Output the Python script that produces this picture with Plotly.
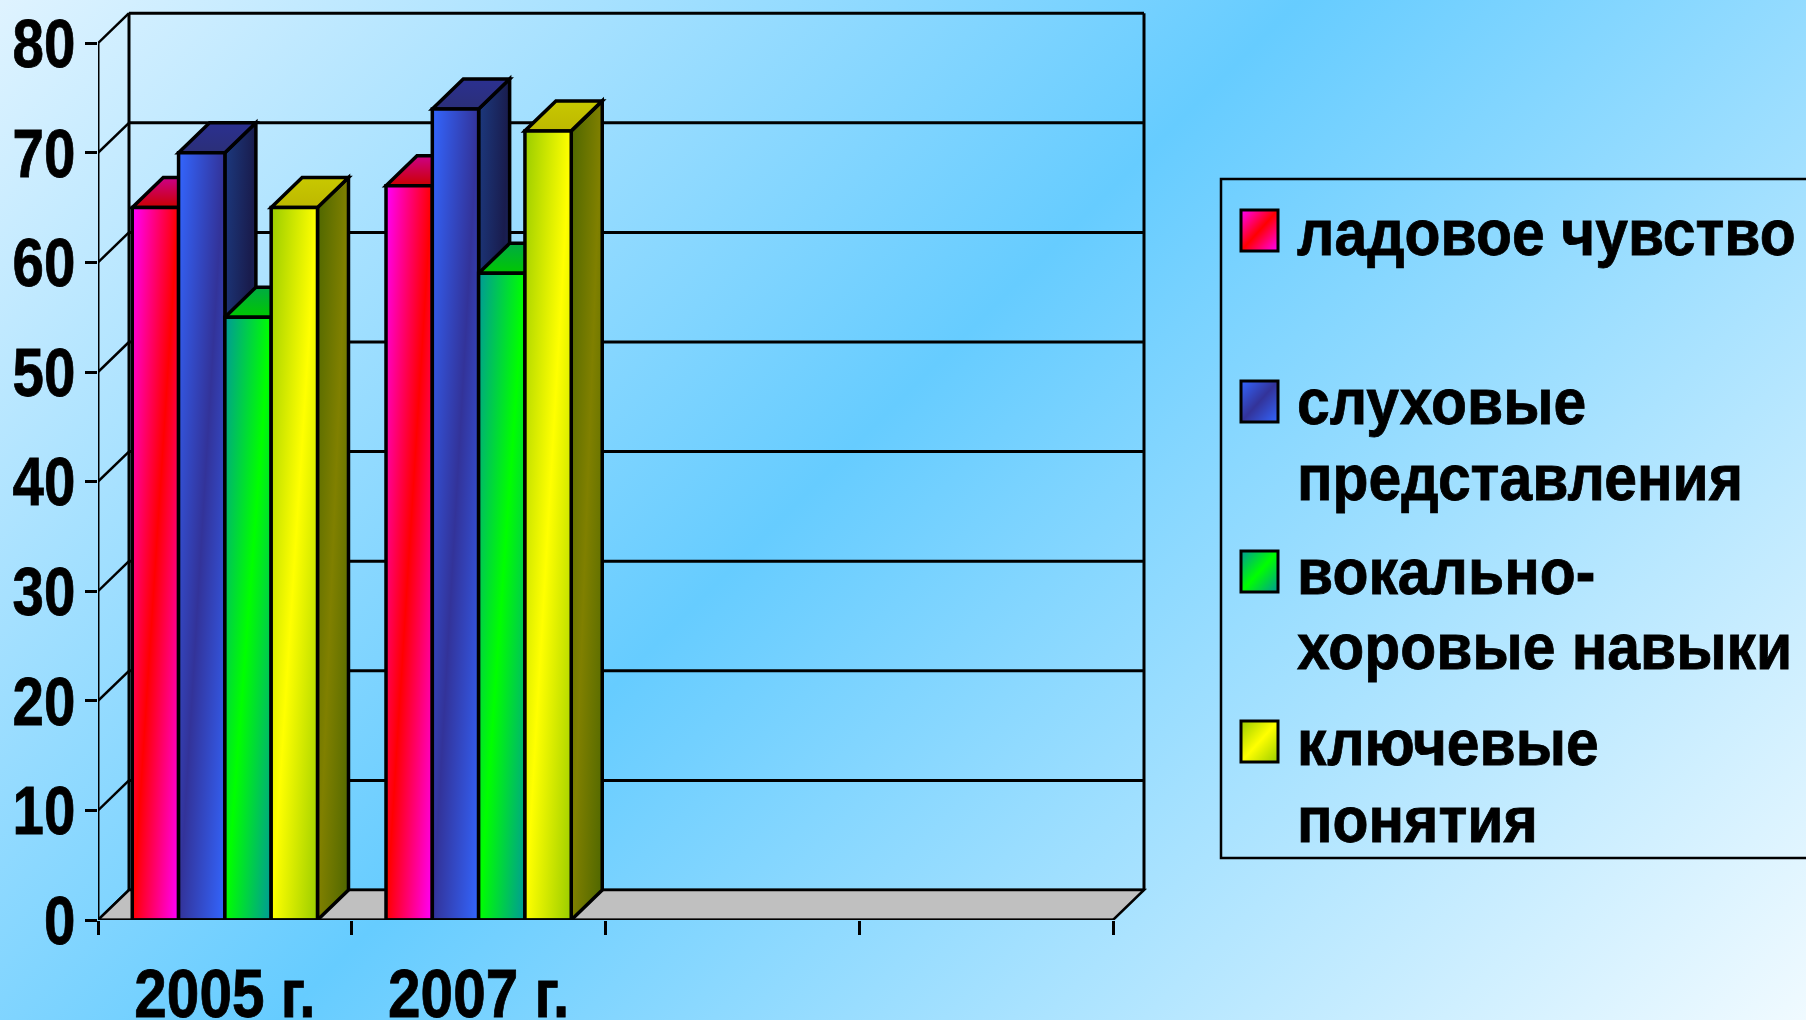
import base64, json
import plotly.graph_objects as go

# ---------- data ----------
categories = ["2005 г.", "2007 г."]
series_names = ["ладовое чувство", "слуховые представления", "вокально-хоровые навыки", "ключевые понятия"]
ladovoe = [65, 67]
sluhovye = [70, 74]
vokalno = [55, 59]
klyuchevye = [65, 72]
y_ticks = [0, 10, 20, 30, 40, 50, 60, 70, 80]

legend_lines = [["ладовое чувство"], ["слуховые", "представления"], ["вокально-", "хоровые навыки"], ["ключевые", "понятия"]]

# ---------- styling ----------
FONT = "Liberation Sans, Arial, sans-serif"
W, H = 1806, 1020
X0, Y0 = 98, 920          # front origin in px
CAT_PX, UNIT_PX = 253.75, 10.96
DX, DY = 31 / CAT_PX, 30 / UNIT_PX   # depth in axis units
X_END = -0.5 + (1150 - X0) / CAT_PX
Y_END = (Y0 - 6) / UNIT_PX
BARGAP = 0.27
LW = 3.5

front = [("#ff00ff", "#ff0000"), ("#3366ff", "#333399"), ("#009999", "#00ff00"), ("#99cc00", "#ffff00")]
side = [("#800080", "#800000"), ("#1c3a80", "#191c4d"), ("#004d4d", "#008000"), ("#4d6600", "#808000")]
top = [("#cc0088", "#cc0000"), ("#2b3090", "#2b2f78"), ("#00aa44", "#00c800"), ("#c8c800", "#bdb800")]
values = [ladovoe, sluhovye, vokalno, klyuchevye]

fig = go.Figure()
for name, vals, c in zip(series_names, values, front):
    fig.add_bar(x=list(range(len(categories))), y=vals, name=name, showlegend=False,
                marker=dict(color=c[1], line=dict(color="black", width=LW)))

shapes, grads = [], {}

def add_shape(grad=None, **kw):
    shapes.append(kw)
    if grad:
        grads[len(shapes) - 1] = grad

# back wall grid + edges
for t in y_ticks:
    yb = t + DY
    add_shape(type="line", xref="x", yref="y", x0=-0.5 + DX, x1=3.5 + DX, y0=yb, y1=yb,
              line=dict(color="black", width=3), layer="below")
    add_shape(type="line", xref="x", yref="y", x0=-0.5, x1=-0.5 + DX, y0=t, y1=yb,
              line=dict(color="black", width=2.5), layer="below")
for xv in (-0.5 + DX, 3.5 + DX):
    add_shape(type="line", xref="x", yref="y", x0=xv, x1=xv, y0=DY, y1=80 + DY,
              line=dict(color="black", width=3), layer="below")
# floor
add_shape(type="path", xref="x", yref="y",
          path=f"M-0.5,0 L{-0.5+DX},{DY} L{3.5+DX},{DY} L3.5,0 Z",
          fillcolor="#c0c0c0", line=dict(color="black", width=2.5), layer="below")

# bar tops and sides, painted left to right
bw = (1 - BARGAP) / len(values)
for i in range(len(categories)):
    for s, vals in enumerate(values):
        l = i + (s - len(values) / 2) * bw
        r = l + bw
        v = vals[i]
        add_shape(grad=(side[s], "d"), type="path", xref="x", yref="y",
                  path=f"M{r},0 L{r+DX},{DY} L{r+DX},{v+DY} L{r},{v} Z",
                  fillcolor=side[s][1], line=dict(color="black", width=LW), layer="below")
        add_shape(grad=(top[s], "v"), type="path", xref="x", yref="y",
                  path=f"M{l},{v} L{l+DX},{v+DY} L{r+DX},{v+DY} L{r},{v} Z",
                  fillcolor=top[s][1], line=dict(color="black", width=LW), layer="below")

# front axis lines
add_shape(type="line", xref="x", yref="y", x0=-0.5, x1=-0.5, y0=0, y1=80,
          line=dict(color="black", width=3), layer="below")
add_shape(type="line", xref="x", yref="y", x0=-0.5, x1=3.5, y0=0, y1=0,
          line=dict(color="black", width=3), layer="above")

# legend box and swatches
px = lambda v: v / W
py = lambda v: 1 - v / H
add_shape(type="rect", xref="paper", yref="paper", x0=px(1221), x1=px(1830), y0=py(179), y1=py(858),
          fillcolor="rgba(0,0,0,0)", line=dict(color="black", width=2.5), layer="above")
sw_y = [210, 381, 551, 721]
text_y = [[233], [402, 478], [572, 647], [743, 820]]
annotations = []
for s, (y, lines, ys) in enumerate(zip(sw_y, legend_lines, text_y)):
    add_shape(grad=(front[s], "d"), type="rect", xref="paper", yref="paper",
              x0=px(1241), x1=px(1278), y0=py(y), y1=py(y + 41),
              fillcolor=front[s][1], line=dict(color="black", width=3), layer="above")
    for ln, ty in zip(lines, ys):
        annotations.append(dict(xref="paper", yref="paper", x=px(1295), y=py(ty), text=ln, showarrow=False,
                                xanchor="left", yanchor="middle",
                                font=dict(family=FONT, size=64, color="black", weight=700)))

# page background as an SVG gradient
bg_svg = (f'<svg xmlns="http://www.w3.org/2000/svg" width="{W}" height="{H}">'
          f'<defs><linearGradient id="b" gradientUnits="userSpaceOnUse" x1="0" y1="0" x2="1413" y2="1413">'
          '<stop offset="0" stop-color="#dff3ff"/><stop offset="0.46" stop-color="#66ccff"/>'
          '<stop offset="1" stop-color="#f0faff"/></linearGradient></defs>'
          f'<rect width="{W}" height="{H}" fill="url(#b)"/></svg>')
bg_uri = "data:image/svg+xml;base64," + base64.b64encode(bg_svg.encode()).decode()

fig.update_layout(
    width=W, height=H, margin=dict(l=0, r=0, t=0, b=0, autoexpand=False),
    paper_bgcolor="#66ccff", plot_bgcolor="rgba(0,0,0,0)",
    barmode="group", bargap=BARGAP, bargroupgap=0,
    shapes=shapes, annotations=annotations, showlegend=False,
    images=[dict(source=bg_uri, xref="paper", yref="paper", x=0, y=1, sizex=1, sizey=1,
                 sizing="stretch", xanchor="left", yanchor="top", layer="below")],
    xaxis=dict(domain=[X0 / W, 1150 / W], range=[-0.5, X_END], showgrid=False, zeroline=False,
               showline=False, tickmode="array", tickvals=list(range(len(categories))), ticktext=categories,
               ticks="outside", ticklen=14, tickcolor="rgba(0,0,0,0)",
               minor=dict(tickmode="array", tickvals=[-0.5, 0.5, 1.5, 2.5, 3.5], ticks="outside",
                          ticklen=14, tickwidth=3, tickcolor="black", showgrid=False),
               tickfont=dict(family=FONT, size=68, color="black", weight=700)),
    yaxis=dict(domain=[1 - Y0 / H, 1 - 6 / H], range=[0, Y_END], showgrid=False, zeroline=False,
               showline=False, anchor="x", tickmode="array", tickvals=y_ticks, ticklabelstandoff=-4,
               ticks="outside", ticklen=12, tickwidth=3, tickcolor="black",
               tickfont=dict(family=FONT, size=68, color="black", weight=700)),
)

post = """
document.body.style.margin='0';
document.documentElement.style.overflow='hidden';
var svgNS='http://www.w3.org/2000/svg';
var svg=document.querySelector('.main-svg');
var defs=document.createElementNS(svgNS,'defs');svg.insertBefore(defs,svg.firstChild);
function mk(id,c,mode){
  var g=document.createElementNS(svgNS,'linearGradient');g.setAttribute('id',id);
  g.setAttribute('x1','0');g.setAttribute('y1','0');
  g.setAttribute('x2',mode==='v'?'0':'1');g.setAttribute('y2','1');
  var st=mode==='v'?[[0,c[0]],[1,c[1]]]:[[0,c[0]],[0.5,c[1]],[1,c[0]]];
  st.forEach(function(s){var e=document.createElementNS(svgNS,'stop');e.setAttribute('offset',s[0]);e.setAttribute('stop-color',s[1]);g.appendChild(e);});
  defs.appendChild(g);return 'url(#'+id+')';
}
var front=FRONT, grads=GRADS;
document.querySelectorAll('.barlayer .trace').forEach(function(t,i){
  var u=mk('fr'+i,front[i],'d');
  t.querySelectorAll('path').forEach(function(p){p.style.fill=u;});
});
Object.keys(grads).forEach(function(k){
  var u=mk('sh'+k,grads[k][0],grads[k][1]);
  document.querySelectorAll('path[data-index="'+k+'"]').forEach(function(p){p.style.fill=u;});
});
function squeeze(t,f){
  var n=t.getComputedTextLength();
  t.setAttribute('lengthAdjust','spacingAndGlyphs');
  t.setAttribute('textLength',n*f);
  t.style.stroke='black';t.style.strokeWidth='0.8px';
}
document.querySelectorAll('.ytick text').forEach(function(t){squeeze(t,0.83);});
document.querySelectorAll('.xtick text').forEach(function(t){squeeze(t,0.86);});
document.querySelectorAll('.annotation-text').forEach(function(t){
  var b=t.getBBox();
  t.setAttribute('text-anchor','start');t.style.textAnchor='start';
  t.setAttribute('x',b.x);
  squeeze(t,0.92);
});
""".replace("FRONT", json.dumps(front)).replace("GRADS", json.dumps(grads))

fig.write_html("out.html", post_script=post, config=dict(displayModeBar=False))
